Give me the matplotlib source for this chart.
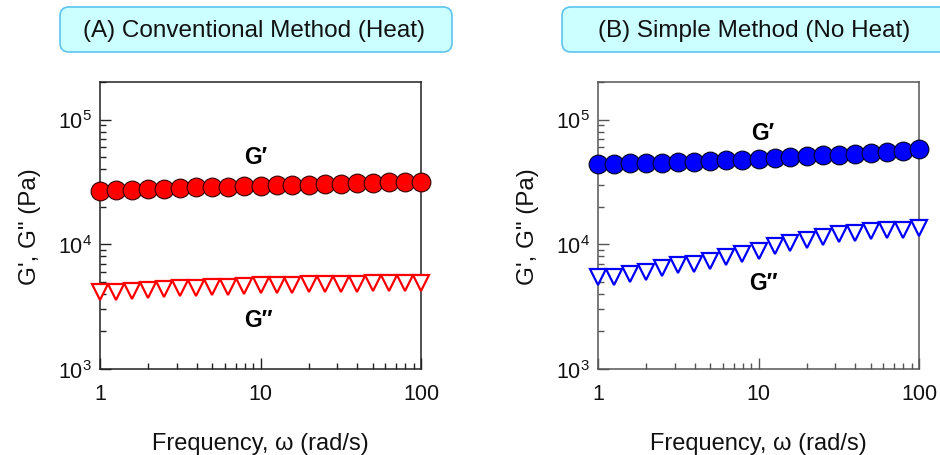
import numpy as np
import matplotlib
matplotlib.use("Agg")
import matplotlib.pyplot as plt
from matplotlib.patches import FancyBboxPatch
from matplotlib.ticker import LogLocator, NullFormatter, FixedLocator

plt.rcParams['font.family'] = ['Liberation Sans', 'DejaVu Sans']
plt.rcParams['mathtext.fontset'] = 'custom'
plt.rcParams['mathtext.rm'] = 'Liberation Sans'
plt.rcParams['mathtext.it'] = 'Liberation Sans:italic'
plt.rcParams['mathtext.bf'] = 'Liberation Sans:bold'

# ---- data ----
omega = [1.0, 1.26, 1.58, 2.0, 2.51, 3.16, 3.98, 5.01, 6.31, 7.94, 10.0,
         12.6, 15.8, 20.0, 25.1, 31.6, 39.8, 50.1, 63.1, 79.4, 100.0]

A_Gp = [2.66e4, 2.70e4, 2.73e4, 2.76e4, 2.80e4, 2.83e4, 2.86e4, 2.88e4, 2.90e4, 2.92e4, 2.94e4,
        2.97e4, 2.99e4, 3.01e4, 3.04e4, 3.06e4, 3.08e4, 3.10e4, 3.13e4, 3.15e4, 3.18e4]
A_Gpp = [4.15e3, 4.18e3, 4.25e3, 4.30e3, 4.35e3, 4.42e3, 4.47e3, 4.52e3, 4.55e3, 4.60e3, 4.68e3,
         4.71e3, 4.74e3, 4.77e3, 4.80e3, 4.82e3, 4.84e3, 4.86e3, 4.88e3, 4.90e3, 4.92e3]

B_Gp = [4.42e4, 4.43e4, 4.45e4, 4.47e4, 4.50e4, 4.53e4, 4.58e4, 4.63e4, 4.70e4, 4.76e4, 4.85e4,
        4.93e4, 5.01e4, 5.08e4, 5.15e4, 5.23e4, 5.32e4, 5.40e4, 5.50e4, 5.63e4, 5.83e4]
B_Gpp = [5.50e3, 5.50e3, 5.78e3, 6.03e3, 6.40e3, 6.77e3, 6.94e3, 7.38e3, 7.84e3, 8.35e3, 8.87e3,
         9.73e3, 1.03e4, 1.08e4, 1.15e4, 1.21e4, 1.24e4, 1.28e4, 1.30e4, 1.30e4, 1.34e4]

titles = ["(A) Conventional Method (Heat)", "(B) Simple Method (No Heat)"]
x_ticks = [1, 10, 100]
x_ticklabels = ["1", "10", "100"]
y_ticks = [1e3, 1e4, 1e5]
y_ticklabels = [r"$\mathregular{10^{3}}$", r"$\mathregular{10^{4}}$", r"$\mathregular{10^{5}}$"]

W, H = 940, 456
fig = plt.figure(figsize=(W / 100, H / 100), dpi=100)

# overlay for title boxes, in pixel units
ov = fig.add_axes([0, 0, 1, 1])
ov.set_xlim(0, W)
ov.set_ylim(H, 0)
ov.axis('off')
ov.set_zorder(-1)

boxes = [(60, 8, 392, 45, 254), (562, 8, 400, 45, 754)]
for (bx, by, bw, bh, tx), t in zip(boxes, titles):
    p = FancyBboxPatch((bx, by), bw, bh, boxstyle="round,pad=0,rounding_size=9",
                       fc='#CCFFFF', ec='#5CC4EE', lw=1.2, clip_on=False)
    ov.add_patch(p)
    ov.text(tx, by + bh / 2 + 1, t, ha='center', va='center', fontsize=17.5, color='#111111')

panels = [
    dict(left=100, Gp=A_Gp, Gpp=A_Gpp, color='#FF0000', spine='#222222', edge='#330000',
         gp_pos=(9.3, 5.1e4), gpp_pos=(9.7, 2.5e3)),
    dict(left=598, Gp=B_Gp, Gpp=B_Gpp, color='#0000FF', spine='#555555', edge='#000022',
         gp_pos=(10.6, 7.9e4), gpp_pos=(10.7, 4.9e3)),
]

ax_w, ax_top, ax_bot = 321, 83, 370
for p in panels:
    ax = fig.add_axes([p['left'] / W, (H - ax_bot) / H, ax_w / W, (ax_bot - ax_top) / H])
    ax.set_xscale('log')
    ax.set_yscale('log')
    ax.set_xlim(1, 100)
    ax.set_ylim(1e3, 2e5)
    ax.plot(omega, p['Gp'], linestyle='none', marker='o', ms=13.5, mfc=p['color'],
            mec=p['edge'], mew=0.8, clip_on=False, zorder=3)
    ax.plot(omega, p['Gpp'], linestyle='none', marker='v', ms=12, mfc='white',
            mec=p['color'], mew=1.6, clip_on=False, zorder=3)
    for s in ax.spines.values():
        s.set_color(p['spine'])
        s.set_linewidth(1.1)
    ax.xaxis.set_major_locator(FixedLocator(x_ticks))
    ax.set_xticklabels(x_ticklabels)
    ax.yaxis.set_major_locator(FixedLocator(y_ticks))
    ax.set_yticklabels(y_ticklabels)
    ax.xaxis.set_minor_locator(LogLocator(base=10, subs=np.arange(2, 10)))
    ax.yaxis.set_minor_locator(LogLocator(base=10, subs=np.arange(2, 10)))
    ax.xaxis.set_minor_formatter(NullFormatter())
    ax.yaxis.set_minor_formatter(NullFormatter())
    ax.tick_params(which='both', direction='in', top=False, right=False,
                   colors=p['spine'], labelcolor='#111111', width=1.0)
    ax.tick_params(which='major', length=8, labelsize=15.5)
    ax.tick_params(which='minor', length=4.5)
    ax.tick_params(axis='x', which='major', pad=10)
    ax.tick_params(axis='y', which='major', pad=6)
    ax.set_xlabel("Frequency, ω (rad/s)", fontsize=17, labelpad=20, color='#111111')
    ax.set_ylabel("G', G\" (Pa)", fontsize=17.5, labelpad=12, color='#111111')
    ax.text(*p['gp_pos'], "G′", fontsize=16.5, fontweight='bold', ha='center', va='center')
    ax.text(*p['gpp_pos'], "G″", fontsize=16.5, fontweight='bold', ha='center', va='center')

fig.savefig("out.png", dpi=100)
